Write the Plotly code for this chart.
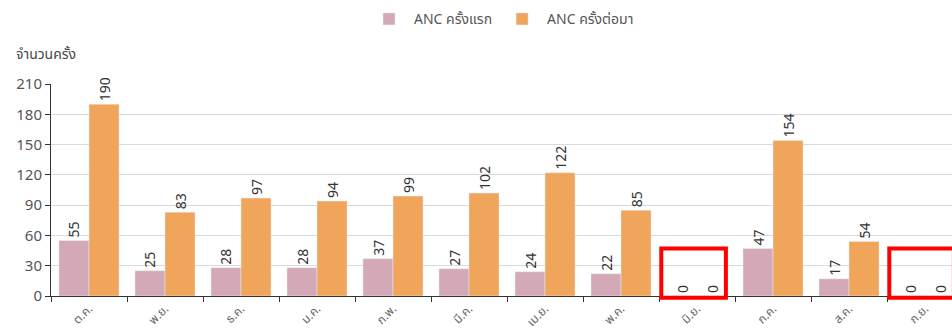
import plotly.graph_objects as go

months = ["ต.ค.", "พ.ย.", "ธ.ค.", "ม.ค.", "ก.พ.", "มี.ค.", "เม.ย.", "พ.ค.", "มิ.ย.", "ก.ค.", "ส.ค.", "ก.ย."]
anc_first = [55, 25, 28, 28, 37, 27, 24, 22, 0, 47, 17, 0]
anc_follow = [190, 83, 97, 94, 99, 102, 122, 85, 0, 154, 54, 0]
y_ticks = [0, 30, 60, 90, 120, 150, 180, 210]

FONT = "Noto Sans, Noto Sans Thai, sans-serif"
PINK = "#d3a9b7"
ORANGE = "#f0a55a"

fig = go.Figure()
fig.add_trace(go.Bar(
    x=months, y=anc_first, name="ANC ครั้งแรก",
    marker=dict(color=PINK),
    text=anc_first, textposition="outside", textangle=-90,
    textfont=dict(size=14, color="#333333"), cliponaxis=False,
))
fig.add_trace(go.Bar(
    x=months, y=anc_follow, name="ANC ครั้งต่อมา",
    marker=dict(color=ORANGE),
    text=anc_follow, textposition="outside", textangle=-90,
    textfont=dict(size=14, color="#333333"), cliponaxis=False,
))

# highlight the months with no visits (paper y so the frame is not clipped at the axis)
y_box_top = 47 / 210
for i, (a, b) in enumerate(zip(anc_first, anc_follow)):
    if a == 0 and b == 0:
        fig.add_shape(type="rect", xref="x", yref="paper",
                      x0=i - 0.47, x1=i + 0.38, y0=-0.008, y1=y_box_top,
                      line=dict(color="#ff0000", width=4), layer="above")

fig.update_layout(
    width=952, height=329,
    margin=dict(l=51, r=0, t=84, b=33),
    paper_bgcolor="white", plot_bgcolor="white",
    font=dict(family=FONT, size=13, color="#555555"),
    barmode="group", bargap=0.21, bargroupgap=0,
    showlegend=True,
    legend=dict(orientation="h", x=0.5, xanchor="center", y=0.99, yanchor="top",
                yref="container", font=dict(size=14, color="#555555"),
                itemwidth=40),
    uniformtext=dict(minsize=8, mode="show"),
)
fig.update_xaxes(
    range=[-0.5, 11.355], tickangle=-45, tickson="boundaries",
    ticks="outside", ticklen=5, tickcolor="#333333", ticklabelstandoff=0,
    showline=True, linecolor="#333333", linewidth=1, automargin=False,
    tickfont=dict(size=12, color="#666666"), showgrid=False,
)
fig.update_yaxes(
    range=[0, 210], tickvals=y_ticks, ticks="outside", ticklen=5,
    tickcolor="#333333", showline=True, linecolor="#333333", linewidth=1,
    gridcolor="#dadada", gridwidth=1, zeroline=False, automargin=False,
    tickfont=dict(size=15, color="#555555"),
)
fig.add_annotation(text="จำนวนครั้ง", xref="paper", yref="paper",
                   x=-0.041, y=1.146, xanchor="left", yanchor="middle",
                   showarrow=False, font=dict(size=14, color="#444444"))

fig.write_html("out.html")
